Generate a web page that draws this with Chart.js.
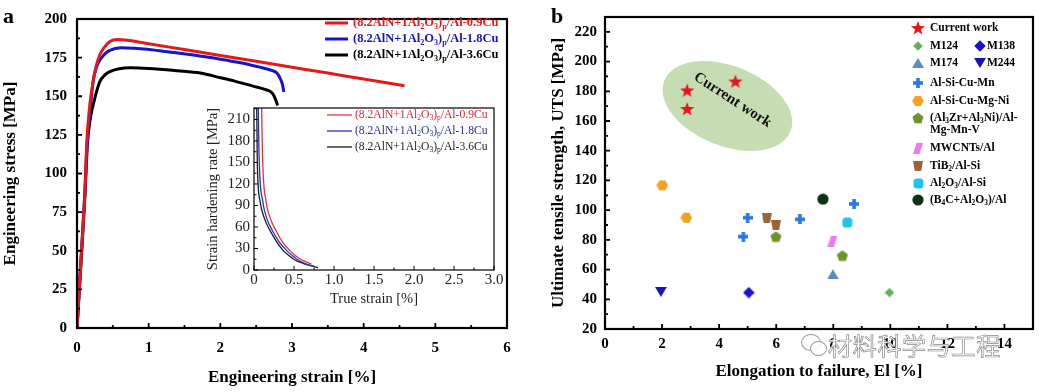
<!DOCTYPE html>
<html>
<head>
<meta charset="utf-8">
<script src="https://cdn.jsdelivr.net/npm/chart.js@4.4.1/dist/chart.umd.min.js"></script>
<style>
  html, body { margin: 0; padding: 0; background: #fff; }
  #wrap { position: relative; width: 1039px; height: 392px; overflow: hidden; background: #fff; }
  .box { position: absolute; }
  .lbl { position: absolute; font: bold 22px 'Liberation Serif', serif; line-height: 22px; color: #000; }
  #wm { position: absolute; left: 828px; top: 330px; font: 24px 'Noto Sans CJK SC', sans-serif; line-height: 30px;
        color: #fff; -webkit-text-stroke: 0.7px #8a8a8a; letter-spacing: 0.7px; white-space: nowrap; }
  .wmic { position: absolute; border: 1px solid #9a9a9a; border-radius: 50%; background: rgba(255,255,255,0.85); }
</style>
</head>
<body>
<div id="wrap">
  <div class="box" style="left:0;top:0;width:530px;height:392px"><canvas id="chartA"></canvas></div>
  <div class="box" style="left:200px;top:95px;width:310px;height:217px"><canvas id="chartInset"></canvas></div>
  <div class="box" style="left:530px;top:0;width:509px;height:392px"><canvas id="chartB"></canvas></div>
  <div class="lbl" style="left:3px;top:5px">a</div>
  <div class="lbl" style="left:551px;top:5px">b</div>
  <div class="wmic" style="left:801px;top:334px;width:18px;height:15px"></div>
  <div class="wmic" style="left:810px;top:341px;width:15px;height:13px"></div>
  <div id="wm">材料科学与工程</div>
</div>
<script>
// ---------- panel a: engineering stress-strain curves ----------
const curveLabels = ['(8.2AlN+1Al₂O₃)ₚ/Al-0.9Cu', '(8.2AlN+1Al₂O₃)ₚ/Al-1.8Cu', '(8.2AlN+1Al₂O₃)ₚ/Al-3.6Cu'];

const strain09 = [0, 0.06, 0.11, 0.135, 0.18, 0.23, 0.27, 0.32, 0.37, 0.46, 0.56, 0.7, 1.0, 1.5, 2.0, 2.5, 3.0, 3.5, 4.0, 4.57];
const stress09 = [0, 48, 88, 119, 145, 161, 170, 177, 181, 185.4, 186.7, 186.3, 184.0, 180.2, 176.4, 172.6, 168.8, 165.0, 161.1, 156.8];

const strain18 = [0, 0.06, 0.11, 0.14, 0.18, 0.23, 0.26, 0.3, 0.37, 0.45, 0.62, 0.8, 1.2, 1.6, 2.0, 2.3, 2.53, 2.7, 2.79, 2.84, 2.87, 2.885];
const stress18 = [0, 48, 88, 118, 140, 161, 167, 172, 176.5, 179.5, 181.4, 181, 179.2, 176.8, 174, 171.5, 169, 167, 165, 161, 157, 152.8];

const strain36 = [0, 0.06, 0.11, 0.145, 0.18, 0.25, 0.32, 0.39, 0.46, 0.74, 1.0, 1.4, 1.72, 2.0, 2.2, 2.47, 2.62, 2.7, 2.74, 2.77, 2.8];
const stress36 = [0, 45, 85, 119, 134, 149, 159.6, 163.8, 166, 168.4, 168, 166.5, 165, 162, 159.8, 156.4, 154.5, 153, 151, 148, 144];

// inset: strain hardening rate vs true strain
const hardStrain09 = [0.09, 0.096, 0.109, 0.15, 0.2, 0.275, 0.35, 0.45, 0.52, 0.6, 0.68, 0.72];
const hardRate09   = [300, 226, 151, 96, 73, 55, 40, 27, 20, 14, 10, 8];
const hardStrain18 = [0.05, 0.054, 0.066, 0.109, 0.16, 0.229, 0.31, 0.409, 0.48, 0.55, 0.64, 0.76];
const hardRate18   = [300, 226, 151, 96, 72, 55, 40, 27, 20, 14, 9, 5];
const hardStrain36 = [0.03, 0.034, 0.041, 0.075, 0.13, 0.2, 0.28, 0.366, 0.44, 0.51, 0.62, 0.8];
const hardRate36   = [300, 226, 151, 96, 72, 55, 40, 27, 20, 14, 9, 3];

// ---------- panel b: UTS vs elongation ----------
const currentEl = [2.88, 2.88, 4.57];          const currentUTS = [180.6, 168.1, 186.6];
const m124El = [9.97];                          const m124UTS = [44.5];
const m138El = [5.04];                          const m138UTS = [44.5];
const m174El = [7.99];                          const m174UTS = [56.8];
const m244El = [1.96];                          const m244UTS = [45.0];
const alSiCuMnEl = [4.85, 5.0, 6.83, 8.73];     const alSiCuMnUTS = [82.2, 94.9, 93.8, 104.2];
const alSiCuMgNiEl = [2.01, 2.85];              const alSiCuMgNiUTS = [116.7, 94.9];
const al3ZrEl = [5.99, 8.32];                   const al3ZrUTS = [82.2, 69.4];
const mwcntEl = [7.97];                         const mwcntUTS = [78.9];
const tib2El = [5.67, 5.99];                    const tib2UTS = [94.9, 90.0];
const al2o3El = [8.49];                         const al2o3UTS = [91.6];
const b4cEl = [7.64];                           const b4cUTS = [107.4];

const FAMILY = "'Liberation Serif', 'Times New Roman', serif";
Chart.defaults.font.family = FAMILY;
Chart.defaults.color = '#000';

const pts = (xs, ys) => xs.map((x, i) => ({ x: x, y: ys[i] }));

// subscripts drawn smaller and lowered
const SUB = {'₀':'0','₁':'1','₂':'2','₃':'3','₄':'4','₅':'5','₆':'6','₇':'7','₈':'8','₉':'9','ₚ':'p'};
function drawRich(ctx, text, x, y, size, weight, color){
    const runs = [];
    for (const ch of text) {
        const sub = ch in SUB;
        const c = sub ? SUB[ch] : ch;
        const last = runs[runs.length - 1];
        if (last && last.sub === sub) last.t += c; else runs.push({ t: c, sub: sub });
    }
    ctx.fillStyle = color;
    ctx.textAlign = 'left';
    ctx.textBaseline = 'middle';
    let cx = x;
    runs.forEach(r => {
        const s = r.sub ? size * 0.65 : size;
        ctx.font = weight + ' ' + s + 'px ' + FAMILY;
        ctx.fillText(r.t, cx, y + (r.sub ? size * 0.3 : 0));
        cx += ctx.measureText(r.t).width;
    });
}

function tickValues(min, max, step){
    const out = [];
    const n = Math.floor((max - min) / step + 1e-6);
    for (let i = 0; i <= n; i++) out.push(min + i * step);
    return out;
}

// box frame + inward ticks on bottom/left
const framePlugin = {
    id: 'frame',
    afterDatasetsDraw(chart, args, o){
        const { ctx, chartArea: a } = chart;
        const xs = chart.scales.x, ys = chart.scales.y;
        const isMajor = (v, m) => Math.abs(v / m - Math.round(v / m)) < 1e-6;
        ctx.save();
        ctx.strokeStyle = '#000';
        ctx.lineWidth = o.tickWidth;
        ctx.beginPath();
        tickValues(xs.min, xs.max, o.xMinor).forEach(v => {
            const px = xs.getPixelForValue(v);
            const len = isMajor(v, o.xMajor) ? o.major : o.minor;
            ctx.moveTo(px, a.bottom); ctx.lineTo(px, a.bottom - len);
        });
        tickValues(ys.min, ys.max, o.yMinor).forEach(v => {
            const py = ys.getPixelForValue(v);
            const len = isMajor(v - ys.min, o.yMajor) ? o.major : o.minor;
            ctx.moveTo(a.left, py); ctx.lineTo(a.left + len, py);
        });
        ctx.stroke();
        ctx.lineWidth = o.width;
        ctx.strokeRect(a.left, a.top, a.right - a.left, a.bottom - a.top);
        ctx.restore();
    }
};

const lineLegendPlugin = {
    id: 'lineLegend',
    afterDatasetsDraw(chart, args, o){
        const ctx = chart.ctx;
        ctx.save();
        chart.data.datasets.forEach((ds, i) => {
            const y = o.y + i * o.rowH;
            ctx.strokeStyle = ds.borderColor;
            ctx.lineWidth = o.lineWidth;
            ctx.beginPath(); ctx.moveTo(o.x, y); ctx.lineTo(o.x + o.len, y); ctx.stroke();
            drawRich(ctx, ds.label, o.x + o.len + o.gap, y, o.size, o.weight, o.textColors[i]);
        });
        ctx.restore();
    }
};

const markerLegendPlugin = {
    id: 'markerLegend',
    afterDatasetsDraw(chart, args, o){
        const ctx = chart.ctx;
        ctx.save();
        o.rows.forEach((row, r) => {
            row.forEach((di, c) => {
                const ds = chart.data.datasets[di];
                const img = ds.pointStyle;
                const y = o.rowY[r];
                ctx.drawImage(img, Math.round(o.markerX[c] - img.width / 2), Math.round(y - img.height / 2));
                ds.label.split('\n').forEach((line, k) => drawRich(ctx, line, o.textX[c], y + k * o.lineH, o.size, 'bold', '#000'));
            });
        });
        ctx.restore();
    }
};

const zonePlugin = {
    id: 'zone',
    beforeDatasetsDraw(chart, args, o){
        const { ctx, scales: { x, y } } = chart;
        ctx.save();
        ctx.fillStyle = o.color;
        ctx.beginPath();
        ctx.ellipse(x.getPixelForValue(o.cx), y.getPixelForValue(o.cy), o.rx, o.ry, o.angle * Math.PI / 180, 0, 2 * Math.PI);
        ctx.fill();
        ctx.translate(x.getPixelForValue(o.tx), y.getPixelForValue(o.ty));
        ctx.rotate(o.textAngle * Math.PI / 180);
        ctx.font = 'bold 15px ' + FAMILY;
        ctx.fillStyle = '#111';
        ctx.textAlign = 'center';
        ctx.textBaseline = 'middle';
        ctx.fillText(o.text, 0, 0);
        ctx.restore();
    }
};

// ---------- custom marker images ----------
function marker(w, h, draw){
    const c = document.createElement('canvas');
    c.width = w; c.height = h;
    draw(c.getContext('2d'), w, h);
    return c;
}
function fillPoly(g, p, color){
    g.beginPath();
    p.forEach(([x, y], i) => i ? g.lineTo(x, y) : g.moveTo(x, y));
    g.closePath();
    g.fillStyle = color;
    g.fill();
}
function regular(n, r, rot, cx, cy){
    const p = [];
    for (let i = 0; i < n; i++) {
        const t = rot + i * 2 * Math.PI / n;
        p.push([cx + r * Math.cos(t), cy + r * Math.sin(t)]);
    }
    return p;
}
function starPts(ro, ri, cx, cy){
    const p = [];
    for (let i = 0; i < 10; i++) {
        const r = i % 2 ? ri : ro;
        const t = -Math.PI / 2 + i * Math.PI / 5;
        p.push([cx + r * Math.cos(t), cy + r * Math.sin(t)]);
    }
    return p;
}

const mkStar = marker(16, 16, g => fillPoly(g, starPts(7.5, 3.1, 8, 8.5), '#e5151d'));
const mkHex = marker(12, 12, g => fillPoly(g, regular(6, 5.8, 0, 6, 6), '#f4a21f'));
const mkCross = marker(10, 10, g => { g.fillStyle = '#2a78e2'; g.fillRect(0, 3.2, 10, 3.6); g.fillRect(3.2, 0, 3.6, 10); });
const mkCup = marker(10, 10, g => fillPoly(g, [[0, 0], [10, 0], [8.2, 10], [1.8, 10]], '#986538'));
const mkPent = marker(12, 12, g => fillPoly(g, regular(5, 5.8, -Math.PI / 2, 6, 6.5), '#6e9425'));
const mkCircle = marker(12, 12, g => { g.fillStyle = '#0b3311'; g.beginPath(); g.arc(6, 6, 5.6, 0, 2 * Math.PI); g.fill(); });
const mkRound = marker(11, 11, g => { g.fillStyle = '#20c3ee'; g.beginPath(); g.roundRect(0.5, 0.5, 10, 10, 3.5); g.fill(); });
const mkPara = marker(10, 11, g => fillPoly(g, [[3.5, 0], [10, 0], [6.5, 11], [0, 11]], '#ee7bee'));
const mkTriUp = marker(12, 10, g => fillPoly(g, [[6, 0], [12, 10], [0, 10]], '#5b8cbd'));
const mkTriDn = marker(12, 10, g => fillPoly(g, [[0, 0], [12, 0], [6, 10]], '#1b13b6'));
const mkDiaBlue = marker(12, 12, g => fillPoly(g, regular(4, 5.8, 0, 6, 6), '#1d12d2'));
const mkDiaGreen = marker(10, 10, g => fillPoly(g, regular(4, 4.8, 0, 5, 5), '#6aae5c'));

const noGrid = { display: false, drawTicks: false };

// ---------- chart a ----------
const curveColors = ['#e31a1c', '#1515c8', '#000000'];
new Chart(document.getElementById('chartA'), {
    type: 'scatter',
    data: {
        datasets: [
            { label: curveLabels[0], data: pts(strain09, stress09), borderColor: curveColors[0] },
            { label: curveLabels[1], data: pts(strain18, stress18), borderColor: curveColors[1] },
            { label: curveLabels[2], data: pts(strain36, stress36), borderColor: curveColors[2] }
        ].map(d => Object.assign(d, { showLine: true, pointRadius: 0, borderWidth: 3, cubicInterpolationMode: 'monotone', fill: false }))
    },
    options: {
        animation: false,
        responsive: true,
        maintainAspectRatio: false,
        layout: { padding: { top: 13, right: 23, left: 0, bottom: 0 } },
        plugins: {
            legend: { display: false },
            tooltip: { enabled: false },
            frame: { width: 2.2, tickWidth: 1.8, major: 5, minor: 3, xMajor: 1, xMinor: 0.5, yMajor: 25, yMinor: 12.5 },
            lineLegend: { x: 325, y: 23, rowH: 16, len: 23, gap: 5, size: 12.5, weight: 'bold', lineWidth: 3, textColors: curveColors }
        },
        scales: {
            x: {
                type: 'linear', min: 0, max: 6,
                grid: noGrid, border: { display: false },
                ticks: { stepSize: 1, padding: 11, autoSkip: false, maxRotation: 0, font: { size: 15, weight: 'bold' }, color: '#000' },
                title: { display: true, text: 'Engineering strain [%]', font: { size: 17, weight: 'bold' }, color: '#000', padding: { top: 0, bottom: 4 } },
                afterFit(s){ s.height = 64; }
            },
            y: {
                type: 'linear', min: 0, max: 200,
                grid: noGrid, border: { display: false },
                ticks: { stepSize: 25, padding: 10, autoSkip: false, font: { size: 15, weight: 'bold' }, color: '#000' },
                title: { display: true, text: 'Engineering stress [MPa]', font: { size: 17, weight: 'bold' }, color: '#000', padding: { top: 0, bottom: 0 } },
                afterFit(s){ s.width = 77; }
            }
        }
    },
    plugins: [framePlugin, lineLegendPlugin]
});

// ---------- inset ----------
const insetColors = ['#e2323c', '#2232c4', '#1a1a1a'];
const insetText = ['#d52a34', '#2a2aa8', '#222222'];
new Chart(document.getElementById('chartInset'), {
    type: 'scatter',
    data: {
        datasets: [
            { label: curveLabels[0], data: pts(hardStrain09, hardRate09), borderColor: insetColors[0] },
            { label: curveLabels[1], data: pts(hardStrain18, hardRate18), borderColor: insetColors[1] },
            { label: curveLabels[2], data: pts(hardStrain36, hardRate36), borderColor: insetColors[2] }
        ].map(d => Object.assign(d, { showLine: true, pointRadius: 0, borderWidth: 1.3, cubicInterpolationMode: 'monotone', fill: false }))
    },
    options: {
        animation: false,
        responsive: true,
        maintainAspectRatio: false,
        layout: { padding: { top: 10, right: 16, left: 0, bottom: 0 } },
        plugins: {
            legend: { display: false },
            tooltip: { enabled: false },
            frame: { width: 1.2, tickWidth: 1, major: 4, minor: 2.5, xMajor: 0.5, xMinor: 0.25, yMajor: 30, yMinor: 15 },
            lineLegend: { x: 127, y: 20, rowH: 16, len: 25, gap: 3, size: 11.6, weight: 'normal', lineWidth: 1.3, textColors: insetText }
        },
        scales: {
            x: {
                type: 'linear', min: 0, max: 3,
                grid: noGrid, border: { display: false },
                ticks: { stepSize: 0.5, padding: 1, autoSkip: false, maxRotation: 0, font: { size: 15 }, color: '#222',
                         callback: v => v === 0 ? '0' : v.toFixed(1) },
                title: { display: true, text: 'True strain [%]', font: { size: 14.5 }, color: '#222', padding: { top: 0, bottom: 4.5 } },
                afterFit(s){ s.height = 42; }
            },
            y: {
                type: 'linear', min: 0, max: 226,
                grid: noGrid, border: { display: false },
                ticks: { stepSize: 30, padding: 4, autoSkip: false, includeBounds: false, font: { size: 15 }, color: '#222' },
                title: { display: true, text: 'Strain hardening rate [MPa]', font: { size: 14.5 }, color: '#222', padding: { top: 4.5, bottom: 0 } },
                afterFit(s){ s.width = 54; }
            }
        }
    },
    plugins: [framePlugin, lineLegendPlugin]
});

// ---------- chart b ----------
new Chart(document.getElementById('chartB'), {
    type: 'scatter',
    data: {
        datasets: [
            { label: 'Current work', data: pts(currentEl, currentUTS), pointStyle: mkStar },
            { label: 'M124', data: pts(m124El, m124UTS), pointStyle: mkDiaGreen },
            { label: 'M138', data: pts(m138El, m138UTS), pointStyle: mkDiaBlue },
            { label: 'M174', data: pts(m174El, m174UTS), pointStyle: mkTriUp },
            { label: 'M244', data: pts(m244El, m244UTS), pointStyle: mkTriDn },
            { label: 'Al-Si-Cu-Mn', data: pts(alSiCuMnEl, alSiCuMnUTS), pointStyle: mkCross },
            { label: 'Al-Si-Cu-Mg-Ni', data: pts(alSiCuMgNiEl, alSiCuMgNiUTS), pointStyle: mkHex },
            { label: '(Al₃Zr+Al₃Ni)/Al-\nMg-Mn-V', data: pts(al3ZrEl, al3ZrUTS), pointStyle: mkPent },
            { label: 'MWCNTs/Al', data: pts(mwcntEl, mwcntUTS), pointStyle: mkPara },
            { label: 'TiB₂/Al-Si', data: pts(tib2El, tib2UTS), pointStyle: mkCup },
            { label: 'Al₂O₃/Al-Si', data: pts(al2o3El, al2o3UTS), pointStyle: mkRound },
            { label: '(B₄C+Al₂O₃)/Al', data: pts(b4cEl, b4cUTS), pointStyle: mkCircle }
        ].map(d => Object.assign(d, { pointRadius: 5 }))
    },
    options: {
        animation: false,
        responsive: true,
        maintainAspectRatio: false,
        layout: { padding: { top: 13, right: 6, left: 16, bottom: 0 } },
        plugins: {
            legend: { display: false },
            tooltip: { enabled: false },
            frame: { width: 2.2, tickWidth: 1.8, major: 5, minor: 3, xMajor: 2, xMinor: 1, yMajor: 20, yMinor: 10 },
            zone: { cx: 4.29, cy: 170.1, rx: 68, ry: 40, angle: 22, color: '#c6dcb3',
                    tx: 4.47, ty: 174.1, textAngle: 33, text: 'Current work' },
            markerLegend: {
                rows: [[0], [1, 2], [3, 4], [5], [6], [7], [8], [9], [10], [11]],
                rowY: [28, 46, 63, 83, 101, 118, 148, 166, 183, 200],
                markerX: [388, 450], textX: [400, 457], lineH: 12, size: 11.5
            }
        },
        scales: {
            x: {
                type: 'linear', min: 0, max: 15,
                grid: noGrid, border: { display: false },
                ticks: { stepSize: 2, padding: 6, autoSkip: false, includeBounds: false, maxRotation: 0, font: { size: 15, weight: 'bold' }, color: '#000' },
                title: { display: true, text: 'Elongation to failure, El [%]', font: { size: 17, weight: 'bold' }, color: '#000', padding: { top: 0, bottom: 10 } },
                afterFit(s){ s.height = 63; }
            },
            y: {
                type: 'linear', min: 20, max: 230,
                grid: noGrid, border: { display: false },
                ticks: { stepSize: 20, padding: 8, autoSkip: false, includeBounds: false, font: { size: 15, weight: 'bold' }, color: '#000' },
                title: { display: true, text: 'Ultimate tensile strength, UTS [MPa]', font: { size: 17, weight: 'bold' }, color: '#000', padding: { top: 2, bottom: 0 } },
                afterFit(s){ s.width = 59; }
            }
        }
    },
    plugins: [zonePlugin, framePlugin, markerLegendPlugin]
});
</script>
</body>
</html>
